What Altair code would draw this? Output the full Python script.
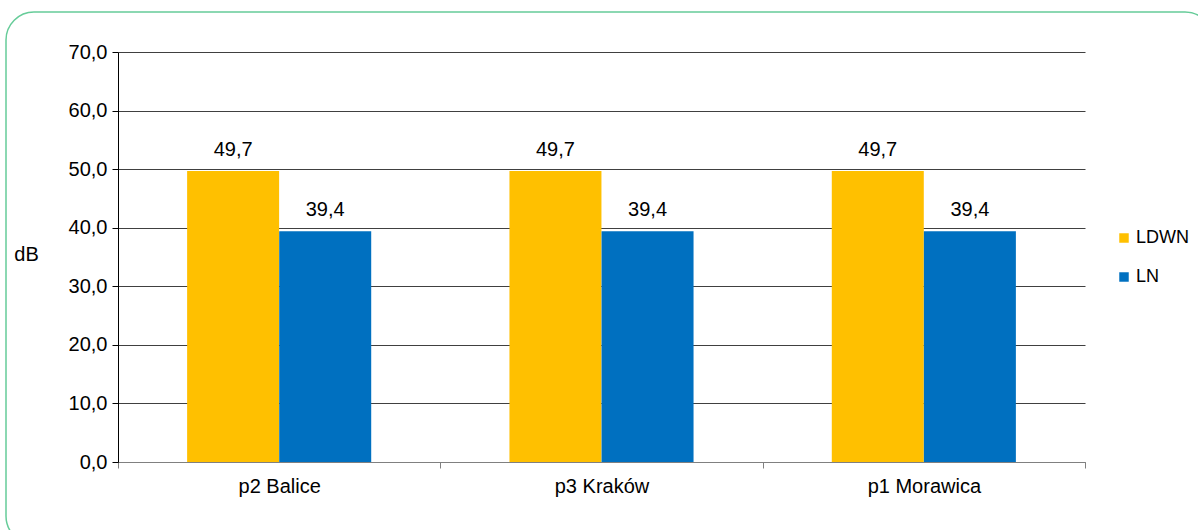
import altair as alt
import pandas as pd

# Measurement points and noise indicators
points = ["p2 Balice", "p3 Kraków", "p1 Morawica"]
series = ["LDWN", "LN"]
ldwn = [49.7, 49.7, 49.7]
ln = [39.4, 39.4, 39.4]
colors = ["#FFC000", "#0070C0"]

rows = []
for i, p in enumerate(points):
    rows.append({"punkt": p, "wskaznik": "LDWN", "dB": ldwn[i]})
    rows.append({"punkt": p, "wskaznik": "LN", "dB": ln[i]})
df = pd.DataFrame(rows)

FONT = "Liberation Sans"
FS = 20
W, H = 967, 410

x_enc = alt.X("punkt:N", sort=points, title=None,
              scale=alt.Scale(paddingInner=0, paddingOuter=0),
              axis=alt.Axis(labelAngle=0, labelFontSize=FS, labelFont=FONT,
                            labelColor="#000", labelPadding=8,
                            domainColor="#808080", tickColor="#808080",
                            tickSize=6, tickBand="extent", grid=False))
xoff_enc = alt.XOffset("wskaznik:N", sort=series,
                       scale=alt.Scale(paddingInner=0, paddingOuter=0.75))
y_scale = alt.Scale(domain=[0, 70])

bars = alt.Chart(df).mark_bar(size=92).encode(
    x=x_enc,
    xOffset=xoff_enc,
    y=alt.Y("dB:Q", scale=y_scale, title="dB",
            axis=alt.Axis(values=[0, 10, 20, 30, 40, 50, 60, 70],
                          labelExpr="replace(format(datum.value, '.1f'), '.', ',')",
                          labelFontSize=FS, labelFont=FONT, labelColor="#000",
                          labelPadding=5, domainColor="#000", tickColor="#000",
                          tickSize=6, grid=True, gridColor="#404040",
                          gridWidth=1, titleAngle=0, titleFontSize=FS,
                          titleFont=FONT, titleFontWeight="normal",
                          titleColor="#000", titleX=-92, titleY=H / 2 + 7,
                          titleAlign="center")),
    color=alt.Color("wskaznik:N", sort=series,
                    scale=alt.Scale(domain=series, range=colors),
                    legend=alt.Legend(title=None, orient="none",
                                      legendX=997, legendY=177, padding=0,
                                      symbolType="square", symbolSize=90,
                                      symbolStrokeWidth=0, labelFontSize=18,
                                      labelFont=FONT, labelColor="#000",
                                      rowPadding=21, labelOffset=3)),
)

labels = alt.Chart(df).transform_calculate(
    etykieta="replace(format(datum.dB, '.1f'), '.', ',')"
).mark_text(fontSize=FS, font=FONT, color="#000", baseline="alphabetic",
            dy=-15).encode(
    x=alt.X("punkt:N", sort=points),
    xOffset=alt.XOffset("wskaznik:N", sort=series),
    y=alt.Y("dB:Q", scale=y_scale),
    text="etykieta:N",
)

# Rounded frame around the whole figure
frame = alt.Chart(pd.DataFrame({"f": [0]})).mark_rect(
    fill=None, stroke="#66CC99", strokeWidth=1.5, cornerRadius=28, clip=False
).encode(
    x=alt.value(-112), x2=alt.value(1095),
    y=alt.value(-40), y2=alt.value(492),
)

chart = alt.layer(bars, labels, frame).properties(
    width=W, height=H,
    autosize=alt.AutoSizeParams(type="none"),
    padding={"left": 118, "top": 52, "right": 113, "bottom": 68},
    background="white",
).configure_view(stroke=None)

chart.save("out.html", embed_options={"renderer": "svg", "actions": False})
